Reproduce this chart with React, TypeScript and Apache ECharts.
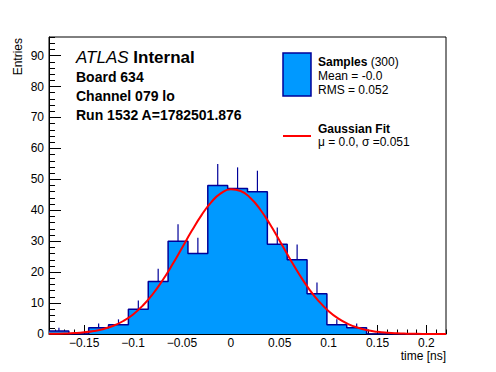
import { useEffect, useRef } from 'react';
import * as echarts from 'echarts';

// ---- data ----
const X_MIN = -0.186;
const X_MAX = 0.22;
const Y_MAX = 96;
const binCounts = [1, 0, 2, 3, 8, 17, 30, 26, 48, 47, 46, 29, 24, 13, 3, 2, 0, 0, 0, 0];
const binErrors = [1, 0, 1.41, 1.73, 2.83, 4.12, 5.48, 5.1, 6.93, 6.86, 6.78, 5.39, 4.9, 3.61, 1.73, 1.41, 0, 0, 0, 0];

const fitX = [
  -0.186, -0.18, -0.17, -0.16, -0.15, -0.14, -0.13, -0.12, -0.11, -0.1, -0.09, -0.08, -0.07, -0.06, -0.05,
  -0.04, -0.03, -0.02, -0.01, 0, 0.01, 0.02, 0.03, 0.04, 0.05, 0.06, 0.07, 0.08, 0.09, 0.1, 0.11, 0.12,
  0.13, 0.14, 0.15, 0.16, 0.17, 0.18, 0.19, 0.2, 0.21, 0.22,
];
const fitY = [
  0.05, 0.08, 0.16, 0.3, 0.55, 0.97, 1.64, 2.68, 4.2, 6.33, 9.2, 12.85, 17.28, 22.35, 27.83,
  33.34, 38.44, 42.64, 45.52, 46.76, 46.23, 43.97, 40.25, 35.46, 30.05, 24.51, 19.24, 14.53, 10.56, 7.39, 4.97, 3.22,
  2.01, 1.2, 0.69, 0.39, 0.21, 0.11, 0.05, 0.03, 0.01, 0.01,
];

const xTickValues = [-0.15, -0.1, -0.05, 0, 0.05, 0.1, 0.15, 0.2];
const xTickLabels = ['\u22120.15', '\u22120.1', '\u22120.05', '0', '0.05', '0.1', '0.15', '0.2'];
const yTickValues = [0, 10, 20, 30, 40, 50, 60, 70, 80, 90];
const yTickLabels = ['0', '10', '20', '30', '40', '50', '60', '70', '80', '90'];

const titleLines = ['Board 634', 'Channel 079 lo', 'Run 1532 A=1782501.876'];
const legendSamples = ['Mean = -0.0', 'RMS = 0.052'];
const legendFit = '\u03bc = 0.0, \u03c3 =0.051';

// ---- styles ----
const FONT = "'Liberation Sans', Arial, Helvetica, sans-serif";
const FILL = '#0099ff';
const EDGE = '#000099';
const RED = '#ff0000';

const N_BINS = binCounts.length;
const BIN_W = (X_MAX - X_MIN) / N_BINS;

const xMinor: number[] = [];
for (let k = -18; k <= 22; k++) xMinor.push(k / 100);
const yMinor: number[] = [];
for (let k = 0; k <= 48; k++) yMinor.push(k * 2);

export default function App() {
  const ref = useRef<HTMLDivElement>(null);
  useEffect(() => {
    if (!ref.current) return;
    const chart = echarts.init(ref.current, null, { renderer: 'svg' });

    const errData = binCounts.map((c, i) => [X_MIN + (i + 0.5) * BIN_W, c, c + binErrors[i]]);
    const outline = binCounts.map((c, i) => [X_MIN + i * BIN_W, c]);
    outline.push([X_MAX, binCounts[N_BINS - 1]]);
    const fitData = fitX.map((x, i) => [x, fitY[i]]);

    const option: any = {
      animation: false,
      backgroundColor: '#fff',
      grid: { left: 49, right: 50, top: 37, bottom: 38, show: true, borderColor: '#000', borderWidth: 1 },
      xAxis: [
        {
          type: 'value',
          min: X_MIN,
          max: X_MAX,
          position: 'bottom',
          splitLine: { show: false },
          axisLine: { show: true, onZero: false, lineStyle: { color: '#000', width: 1 } },
          axisTick: { show: true, inside: true, length: 9, customValues: xTickValues, lineStyle: { color: '#000' } },
          axisLabel: {
            show: true,
            margin: 3,
            customValues: xTickValues,
            color: '#000',
            fontSize: 12,
            fontFamily: FONT,
            formatter: (v: number) => {
              const idx = xTickValues.findIndex((t) => Math.abs(t - v) < 1e-6);
              return idx >= 0 ? xTickLabels[idx] : '';
            },
          },
        },
        {
          type: 'value',
          min: X_MIN,
          max: X_MAX,
          position: 'bottom',
          splitLine: { show: false },
          axisLine: { show: false, onZero: false },
          axisTick: { show: true, inside: true, length: 4.5, customValues: xMinor, lineStyle: { color: '#000' } },
          axisLabel: { show: false },
        },
      ],
      yAxis: [
        {
          type: 'value',
          min: 0,
          max: Y_MAX,
          position: 'left',
          splitLine: { show: false },
          axisLine: { show: true, onZero: false, lineStyle: { color: '#000', width: 1 } },
          axisTick: { show: true, inside: true, length: 12, customValues: yTickValues, lineStyle: { color: '#000' } },
          axisLabel: {
            show: true,
            margin: 5,
            customValues: yTickValues,
            color: '#000',
            fontSize: 12,
            fontFamily: FONT,
            formatter: (v: number) => {
              const idx = yTickValues.findIndex((t) => Math.abs(t - v) < 1e-6);
              return idx >= 0 ? yTickLabels[idx] : '';
            },
          },
        },
        {
          type: 'value',
          min: 0,
          max: Y_MAX,
          position: 'left',
          splitLine: { show: false },
          axisLine: { show: false, onZero: false },
          axisTick: { show: true, inside: true, length: 6, customValues: yMinor, lineStyle: { color: '#000' } },
          axisLabel: { show: false },
        },
      ],
      series: [
        {
          type: 'line',
          xAxisIndex: 0,
          yAxisIndex: 0,
          data: outline,
          step: 'end',
          symbol: 'none',
          lineStyle: { color: EDGE, width: 1.5 },
          areaStyle: { color: FILL, opacity: 1 },
        },
        {
          type: 'custom',
          xAxisIndex: 0,
          yAxisIndex: 0,
          data: errData,
          encode: { x: 0, y: [1, 2] },
          renderItem: (_p: any, api: any) => {
            const x = api.value(0);
            const c = api.value(1);
            const t = api.value(2);
            if (t <= c) return null;
            const a = api.coord([x, c]);
            const b = api.coord([x, t]);
            return {
              type: 'line',
              shape: { x1: a[0], y1: a[1], x2: b[0], y2: b[1] },
              style: { stroke: EDGE, lineWidth: 1.2 },
            };
          },
        },
        {
          type: 'line',
          xAxisIndex: 0,
          yAxisIndex: 0,
          data: fitData,
          smooth: true,
          symbol: 'none',
          lineStyle: { color: RED, width: 2 },
        },
      ],
      graphic: [
        {
          type: 'text',
          x: 18,
          y: 38,
          rotation: Math.PI / 2,
          style: { text: 'Entries', fill: '#000', fontSize: 12, fontFamily: FONT, align: 'right', verticalAlign: 'middle' },
        },
        {
          type: 'text',
          x: 446,
          y: 356,
          style: { text: 'time [ns]', fill: '#000', fontSize: 12, fontFamily: FONT, align: 'right', verticalAlign: 'middle' },
        },
        {
          type: 'text',
          x: 76,
          y: 57,
          style: {
            text: '{a|ATLAS} {b|Internal}',
            fill: '#000',
            fontSize: 17,
            fontFamily: FONT,
            verticalAlign: 'middle',
            rich: {
              a: { fontStyle: 'italic', fontSize: 17, fontFamily: FONT, fill: '#000' },
              b: { fontWeight: 'bold', fontSize: 17, fontFamily: FONT, fill: '#000' },
            },
          },
        },
        ...titleLines.map((t, i) => ({
          type: 'text',
          x: 76,
          y: 76.5 + i * 19,
          style: { text: t, fill: '#000', fontSize: 14, fontWeight: 'bold', fontFamily: FONT, verticalAlign: 'middle' },
        })),
        {
          type: 'rect',
          shape: { x: 283, y: 53, width: 28, height: 43 },
          style: { fill: FILL, stroke: EDGE, lineWidth: 1.5 },
        },
        {
          type: 'text',
          x: 318,
          y: 62,
          style: {
            text: '{b|Samples} (300)',
            fill: '#000',
            fontSize: 12,
            fontFamily: FONT,
            verticalAlign: 'middle',
            rich: { b: { fontWeight: 'bold', fontSize: 12, fontFamily: FONT, fill: '#000' } },
          },
        },
        ...legendSamples.map((t, i) => ({
          type: 'text',
          x: 318,
          y: 76 + i * 14,
          style: { text: t, fill: '#000', fontSize: 12, fontFamily: FONT, verticalAlign: 'middle' },
        })),
        {
          type: 'line',
          shape: { x1: 283, y1: 136, x2: 311, y2: 136 },
          style: { stroke: RED, lineWidth: 2 },
        },
        {
          type: 'text',
          x: 318,
          y: 128.5,
          style: { text: 'Gaussian Fit', fill: '#000', fontSize: 12, fontWeight: 'bold', fontFamily: FONT, verticalAlign: 'middle' },
        },
        {
          type: 'text',
          x: 318,
          y: 142,
          style: { text: legendFit, fill: '#000', fontSize: 12, fontFamily: FONT, verticalAlign: 'middle' },
        },
      ],
    };

    chart.setOption(option);
    return () => chart.dispose();
  }, []);

  return (
    <div
      ref={ref}
      style={{ position: 'absolute', left: 0, top: 0, width: 496, height: 372, background: '#fff' }}
    />
  );
}
